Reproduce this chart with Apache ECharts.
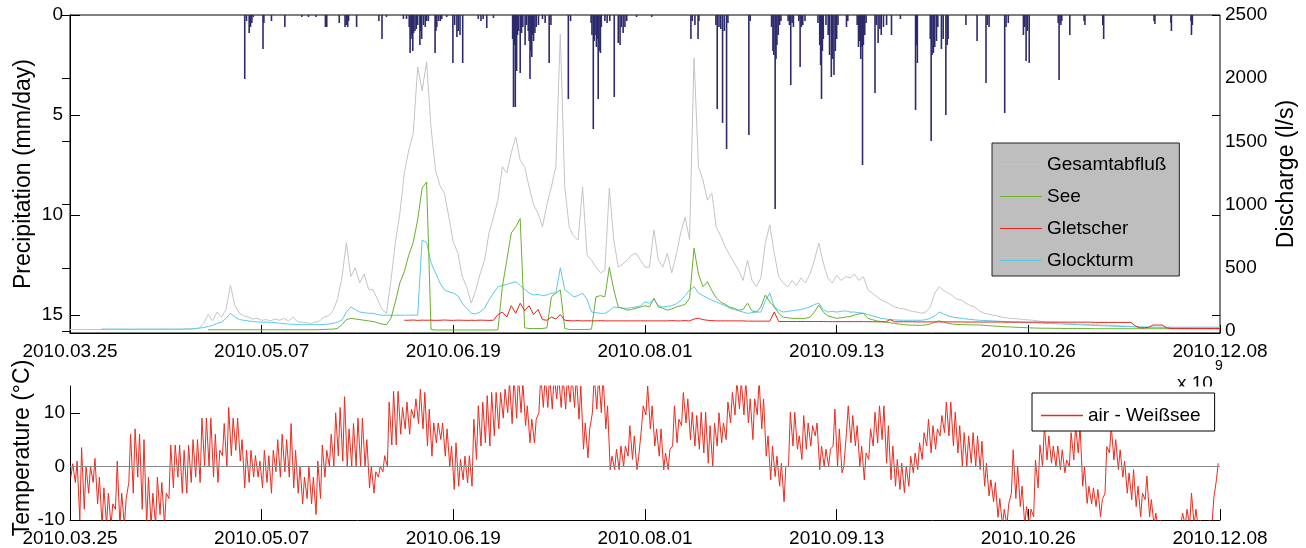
<!DOCTYPE html>
<html><head><meta charset="utf-8">
<script src="https://cdn.jsdelivr.net/npm/echarts@6/dist/echarts.min.js"></script>
<style>html,body{margin:0;padding:0;background:#fff}#c{width:1306px;height:548px}</style>
</head><body><div id="c"></div><script>
// ---------- data ----------
const tickLabels = ['2010.03.25','2010.05.07','2010.06.19','2010.08.01','2010.09.13','2010.10.26','2010.12.08'];
const tickStepDays = 43;
const lastDay = 258;

// precipitation [day offset from 2010-03-25, mm/day]
const precip = [
[39.2,3.2],[39.6,0.3],[40.2,0.9],[40.5,0.6],[40.8,0.4],[41.1,0.1],[43.3,1.7],[43.5,0.4],[45.2,0.3],[48.2,0.6],[52,0.1],[53.5,0.1],[55.2,0.1],[57.3,0.6],[57.6,0.6],
[60.4,0.4],[61.7,0.6],[62.0,0.5],[62.3,0.6],[62.5,0.3],[64.3,0.6],[69.3,0.3],[70.0,1.2],[71.0,0.1],[74.8,0.2],[75.5,0.2],
[76.1,0.6],[76.3,1.9],[76.5,1.2],[76.7,1.0],[76.9,1.8],[77.1,0.9],[77.4,0.8],[77.7,0.7],[78.0,0.5],[78.5,1.5],[78.7,0.8],[78.9,1.2],[79.3,0.5],[79.7,0.6],[80.0,0.3],[80.4,0.3],
[81.9,1.9],[82.1,0.8],[82.3,0.6],[82.7,0.3],[83.1,0.3],[83.4,0.2],[84.5,0.1],[85.9,2.4],[86.3,0.5],[86.8,1.1],[87.1,0.8],[87.5,1.0],[88.1,2.4],
[91.6,0.2],[92.2,0.3],[92.7,0.2],[93.5,0.65],[95.0,0.15],
[99.3,1.2],[99.5,4.6],[99.7,1.5],[99.9,4.6],[100.2,2.8],[100.4,1.0],[100.6,0.8],[101.0,2.9],[101.3,0.9],[101.6,0.6],[102.1,1.5],[102.4,0.5],[102.8,0.8],
[103.0,1.3],[103.2,3.2],[103.4,1.8],[103.6,2.1],[103.8,1.0],[104.0,1.3],[104.3,0.9],[104.6,0.6],[105.1,0.5],[106.0,0.2],[106.6,0.4],[107.5,2.4],[107.9,0.5],
[111.8,4.2],[112.3,0.3],
[116.9,0.4],[117.1,1.0],[117.4,5.7],[117.6,1.3],[117.8,1.0],[118.1,1.6],[118.3,1.2],[118.5,4.2],[118.7,1.8],[119.0,1.9],[119.2,0.6],[120.0,0.3],[120.5,0.4],[121.1,0.3],
[122.1,4.1],[123.0,1.4],[123.4,1.5],[123.7,0.6],[124.1,0.9],[124.5,0.6],[124.9,0.3],[127.1,0.1],[130.5,0.1],
[139.3,1.2],[139.6,0.3],[140.2,0.5],[140.9,1.2],[141.1,0.3],[144.9,0.5],[145.2,4.7],[145.6,0.6],[146.0,0.7],[146.4,5.4],[146.8,0.8],[147.3,6.7],[147.6,0.4],[152.3,6.0],[152.6,0.3],
[157.4,0.6],[157.7,1.8],[157.9,2.0],[158.2,9.7],[158.4,2.2],[158.6,1.5],[158.9,1.0],[159.2,0.5],[159.5,0.3],
[161.1,0.3],[161.4,0.5],[161.7,3.5],[162.0,0.4],[162.3,0.6],[163.5,0.3],[163.8,2.6],[164.1,0.6],[164.4,0.5],[164.9,0.3],
[167.8,0.4],[168.2,1.5],[168.4,2.5],[168.6,4.2],[168.8,1.8],[169.0,1.2],[169.6,0.5],[170.1,1.0],[170.4,2.0],[170.8,3.1],[171.1,2.2],[171.4,3.0],[171.7,1.8],[172.0,1.2],[172.3,0.5],[174.2,0.6],[174.5,0.3],
[176.6,0.5],[176.9,1.6],[177.1,1.3],[177.4,2.2],[177.6,1.6],[177.8,7.5],[178.0,1.5],[178.3,1.0],[178.6,0.4],
[180.6,3.9],[180.9,0.5],[181.3,1.4],[181.7,0.7],[182.0,1.0],[182.5,0.6],[183.2,0.5],[184.3,1.0],[186.3,0.2],
[189.7,4.75],[189.9,1.5],[190.1,2.4],[193.0,1.2],[193.2,6.3],[193.4,2.0],[193.7,1.9],[194.0,1.6],[194.4,1.3],[194.7,0.6],[195.5,1.7],[195.9,1.2],[196.5,5.0],[196.8,1.5],[197.0,1.2],
[201.0,0.5],[203.5,1.3],[205.5,3.4],[205.8,0.5],[206.2,0.6],[209.7,4.9],[210.0,0.6],[210.5,0.4],[213.9,1.0],[214.2,0.6],[214.5,2.3],[214.8,0.8],[215.2,2.4],
[221.7,0.4],[221.9,3.25],[222.3,0.5],[222.5,0.3],[224.3,1.0],[227.5,0.3],[227.7,0.5],[231.7,0.5],[231.9,1.2],[243.2,0.3],[243.4,0.45],[247.0,0.4],[247.1,0.8],[251.5,0.3],[251.6,1.0],[251.8,0.5]
];

// discharge (l/s), one value per day from 2010-03-25 (day 0..258)
const gesamt = [
12,12,11,12,13,12,12,11,12,12, 13,12,12,12,11,12,13,12,12,12, 13,14,13,12,14,13,15,16,18,25,
60,130,80,150,110,170,360,200,140,120, 110,95,100,85,90,80,95,85,100,80, 110,75,70,65,60,70,80,110,120,160,
250,420,700,430,500,380,450,330,325,250, 170,140,400,700,930,1250,1430,1560,2090,1900, 2130,1610,1270,1150,1090,900,700,620,430,350,
220,320,450,560,775,900,1035,1300,1250,1410, 1535,1350,1300,1140,1000,930,825,1000,1140,1300, 2350,1140,820,750,720,1140,600,560,505,460,
480,1130,720,505,530,560,600,615,560,505, 505,800,560,505,615,460,600,775,900,720, 2160,1300,1195,1035,1090,820,750,665,600,540,
480,400,560,400,350,420,700,840,615,430, 380,350,400,360,420,380,450,560,695,540, 420,380,440,400,430,420,450,400,430,325,
300,270,245,230,210,190,180,175,165,155, 150,140,150,190,300,350,320,300,280,250, 245,220,200,190,160,140,135,125,120,110,
105,100,98,95,90,88,85,80,75,70, 70,68,65,62,60,58,55,55,52,50, 50,48,47,46,45,42,40,38,36,34,
32,30,30,29,28,28,27,26,26,25, 25,25,24,24,24,23,23,23,22
];
const see = [
null,null,null,null,null,null,null,null,null,null, null,null,null,null,null,null,null,null,null,null, null,null,null,null,null,null,null,null,null,null,
null,10,10,10,10,10,10,10,10,10, 10,10,10,10,10,10,10,10,10,10, 10,10,10,10,10,10,11,12,14,15,
20,50,90,100,95,90,85,80,75,65, 55,50,100,230,380,470,600,700,880,1130, 1180,12,8,8,8,8,8,8,8,8,
8,8,8,8,8,8,10,350,560,775, 825,890,25,20,20,20,20,25,270,300, 325,20,12,12,12,12,12,15,270,280,
270,505,325,190,180,165,170,180,190,200, 190,260,190,180,165,175,190,200,210,260, 655,450,350,390,320,260,230,210,190,180,
165,170,220,160,150,190,285,230,190,140, 110,105,100,100,100,100,110,150,205,150, 120,110,100,105,110,115,125,135,140,100,
90,80,75,70,65,60,55,50,47,46, 45,45,48,55,70,80,70,60,55,52, 50,50,48,48,47,45,42,40,38,35,
33,32,30,28,27,25,24,23,22,22, 22,21,21,20,20,20,20,19,19,19, 18,18,18,18,18,18,18,18,18,18,
18,18,18,18,18,18,18,18,18,18, 17,17,17,17,17,17,17,17,17
];
const gletscher = [
null,null,null,null,null,null,null,null,null,null, null,null,null,null,null,null,null,null,null,null, null,null,null,null,null,null,null,null,null,null,
null,null,null,null,null,null,null,null,null,null, null,null,null,null,null,null,null,null,null,null, null,null,null,null,null,null,null,null,null,null,
null,null,null,null,null,null,null,null,null,null, null,null,null,null,null,85,85,87,84,86, 85,86,84,85,87,85,84,86,85,84,
85,84,86,85,84,85,130,150,110,200, 140,220,160,200,130,170,90,85,110,95, 130,85,82,80,82,80,81,80,80,82,
80,80,80,80,80,80,80,80,80,80, 80,80,80,80,80,82,80,80,82,80, 95,100,90,85,82,80,80,80,80,80,
80,80,78,78,78,78,78,78,150,75, 75,75,75,75,75,75,75,75,75,75, 74,74,74,74,74,74,74,74,74,74,
73,73,73,73,90,73,73,73,73,73, 72,72,72,72,72,72,72,72,72,72, 72,71,71,71,71,71,71,71,71,71,
70,70,70,70,70,70,70,70,70,70, 70,70,70,70,70,70,70,70,70,70, 68,68,68,68,68,68,68,68,68,40,
25,25,30,47,47,47,25,20,20,20, 20,20,20,20,20,20,20,20,20
];
const glockturm = [
null,null,null,null,null,null,null,15,15,15, 15,15,15,15,15,15,15,15,15,15, 15,15,15,15,15,15,16,16,18,22,
28,35,45,60,70,100,140,110,90,85, 80,75,72,70,70,68,66,62,58,55, 53,52,50,50,50,50,50,52,55,60,
70,85,150,190,170,150,145,140,140,130, 125,125,125,125,125,125,125,125,125,720, 700,540,460,380,325,310,300,280,220,180,
140,135,150,180,245,300,350,360,370,380, 390,360,330,300,285,290,280,285,300,300, 500,325,300,270,280,300,250,150,145,140,
140,160,190,185,180,180,185,190,200,230, 220,250,200,190,195,200,215,240,280,325, 350,300,280,260,245,230,215,200,180,170,
160,150,140,145,150,150,240,300,190,165, 150,155,160,165,170,180,190,210,220,170, 150,155,150,155,160,150,150,145,140,130,
120,110,100,95,90,88,86,85,85,85, 85,85,90,100,120,150,135,120,110,105, 100,95,92,88,85,83,82,80,78,76,
75,73,72,70,68,66,65,63,62,60, 60,58,56,55,53,52,50,48,47,45, 44,42,41,40,38,37,36,35,34,33,
32,31,30,30,30,30,30,30,30,30, 30,30,30,30,30,30,30,30,30
];

// air temperature Weißsee (°C): daily minimum and maximum, day 0..257
const tMax = [
0.5,1,3.5,0,0,1.5,-2,-4,-5,-7, 1,-5,-6,6,7,6,5,-2,-5,-2, -3,-5,4,4,4,3,4,5,5,9, 9,9,6,3,8,11,9,9,5,3,
3,2,1,3,2,3,5,6,5,8, 3,0,-2,0,-2,1,4,3,6,10, 11,13,7,8,9,9,5,0,-1,0,
2,12,14,14,11,12,10.7,12.6,14.4,13.8, 10.7,8.1,8.1,8.1,7,3.8,4.4,1.3,1.9,2, 8.8,11.3,12,13.2,13.8,13.8,13.8,14.4,15.7,17,
17,15.7,11.3,8.8,8.8,17,17,17,17,17, 17,17,17,17,15,8.1,7,17,17,17, 11.3,1.9,3.2,3.8,3.8,7.6,5.7,1.9,11.3,15,
11.3,7,7,2.5,3.2,11.3,8.8,13.8,12.6,10.1, 9.5,10.1,10.1,7.6,8.1,10,8.1,12,13.8,16, 16,16,12.6,12.6,16,12.6,5.7,3.8,1.9,0.6,
0,10.1,10.1,5.7,9.5,8.1,7.6,8.1,3.8,3.2, 3.2,10.7,7,0,11.3,9.5,7.6,3.8,2.5,7, 10.1,11.3,11.3,7.6,3.8,1.3,0.6,0,1.9,2.5,
4.4,6.3,8.8,7.6,7,9.5,12,12,10.1,7.6, 6.3,5.7,6.3,5.7,4.7,0.6,-2.5,-3,-6,-8, -7,3.1,0,-3.7,-7.5,-8,1.2,4,7.6,5.7,
3.8,3.8,3.1,1.2,6.3,7.6,7.6,0,-3.7,-4, -4.3,-6.2,3.7,7.6,5,3.1,1,-1.2,-0.6,-3.7, -5,-1.8,-6.2,-8.7,-10,-11,-10.5,-11,-11,-8.7,
-8,-5,-8,-10,-11,-10,-6,0.6
];
const tMin = [
-2,-3,-10,-8,-5,-3,-7,-11,-11,-11, -8,-11,-11,-3,-5,-2,-8,-11,-11,-11, -9,-11,-6,-4,-2,-5,-5,-3,-2,-3, 0,0,-2,-3,2,0,2,3,1,-4,
-3,-2,-2,-4,-3,-5,-1,-2,-1,-2, -4,-5,-7,-6,-7,-9,-6,-2,0,0, 2,1,0,0,0,0,0,-4,-5,-2,
-1,0,4,4,6,7,6,9,8,7, 3.8,1.9,4.4,5,1.9,0,-4.3,-3.7,-2.5,-3.1, -3.7,1.3,3.8,4.4,3.8,5.7,7,9,10,8,
9,10,7.6,4.4,4.4,10,11,11,10.7,12.6, 11,10.7,12,11,8.8,3.2,1.6,10,10.7,10, 7,-0.6,-0.6,-0.6,0,1.9,1.3,-0.6,7,9.6,
7,3.8,1.9,-0.6,-0.6,3.8,4.4,7.6,8.1,5, 3.8,3.2,2.5,0.6,0,3.8,4.4,5,8.1,9.6, 10.7,9.6,8.1,5,9.6,7,1.9,-2.5,-1.9,-3.7,
-6.6,0,3.8,3.2,1.3,3.2,3.8,5.7,-0.6,0, 0,3.8,0,-1.2,6.3,4.4,3.8,0,-2.5,1.3, 3.8,4.4,5,0.6,-2.5,-3.7,-4.3,-4.9,-3.7,-1.2,
-0.6,1.3,3.8,2.5,3.2,5.7,6.3,5.7,3.8,2.5, 0,0,0.6,0,-0.6,-3.7,-5.5,-6.6,-9.5,-11, -11,-5,-6,-7.5,-11,-11,-9.4,-4,0,1.2,
0.6,0,-0.6,-1.2,0,1.2,2.5,-3.7,-6.9,-7, -7.5,-9.4,-5,2.5,1.2,-0.6,-2,-5,-6.2,-7.5, -9.4,-6.2,-9.4,-11,-12,-12,-12,-12,-12,-11,
-11,-11,-11,-12,-12,-12,-11,-2.5
];

// ---------- chart ----------
const FONT = "'Liberation Sans', Arial, Helvetica, sans-serif";
const RED = '#ee2a1e';
const daily = arr => arr.map((v, i) => v == null ? null : [i, v]).filter(Boolean);
const tempData = [];
tMin.forEach((v, i) => { tempData.push([i + 0.2, v]); tempData.push([i + 0.6, tMax[i]]); });
const xTicks = tickLabels.map((_, i) => i * tickStepDays);
const xFmt = v => { const k = Math.round(v / tickStepDays); return Math.abs(v - k * tickStepDays) < 1e-6 ? tickLabels[k] : ''; };

const chart = echarts.init(document.getElementById('c'), null, {renderer: 'canvas'});
const lbl = {color: '#000', fontSize: 19, fontFamily: FONT};
const baseX = (grid, show, tickLen) => ({
  type: 'value', gridIndex: grid, min: 0, max: lastDay, interval: tickStepDays,
  show: show,
  axisLine: {show: show, onZero: false, lineStyle: {color: '#000', width: 1}},
  axisTick: {show: show, inside: true, length: tickLen, lineStyle: {color: '#000'}, customValues: xTicks},
  axisLabel: Object.assign({show: show, margin: 9, formatter: xFmt, customValues: xTicks}, lbl),
  splitLine: {show: false}
});

chart.setOption({
  animation: false,
  backgroundColor: '#fff',
  textStyle: {fontFamily: FONT},
  grid: [
    {left: 70, top: 15, width: 1150, height: 318, show: true, borderColor: '#000', borderWidth: 1, backgroundColor: 'transparent'},
    {left: 70, top: 15, width: 1150, height: 316},
    {left: 70, top: 386, width: 1150, height: 134}
  ],
  xAxis: [baseX(0, true, 8), baseX(1, false, 0), baseX(2, true, 11)],
  yAxis: [
    {type: 'value', gridIndex: 0, position: 'left', inverse: true, min: 0, max: 15.9, interval: 5,
     axisLine: {show: true, lineStyle: {color: '#000'}},
     axisTick: {show: true, inside: true, length: 10, lineStyle: {color: '#000'}, customValues: [0, 5, 10, 15]},
     axisLabel: Object.assign({margin: 7, customValues: [0, 5, 10, 15], formatter: v => (v % 5 === 0 ? String(v) : '')}, lbl),
     splitLine: {show: false}},
    {type: 'value', gridIndex: 0, position: 'right', inverse: true, min: 0, max: 15.9, interval: 5,
     axisLine: {show: false},
     axisTick: {show: true, inside: true, length: 8, lineStyle: {color: '#000'}, customValues: [0, 5, 10, 15]},
     axisLabel: {show: false}, splitLine: {show: false}},
    {type: 'value', gridIndex: 1, position: 'right', min: 0, max: 2500, interval: 500,
     axisLine: {show: true, lineStyle: {color: '#000'}},
     axisTick: {show: true, inside: true, length: 8, lineStyle: {color: '#000'}},
     axisLabel: Object.assign({margin: 5, formatter: v => String(v)}, lbl),
     splitLine: {show: false}},
    {type: 'value', gridIndex: 2, position: 'left', min: -10, max: 15, interval: 10,
     axisLine: {show: true, onZero: false, lineStyle: {color: '#000'}},
     axisTick: {show: true, inside: true, length: 10, lineStyle: {color: '#000'}, customValues: [-10, 0, 10]},
     axisLabel: Object.assign({margin: 5, customValues: [-10, 0, 10], formatter: v => (v % 10 === 0 ? String(v) : '')}, lbl),
     splitLine: {show: false}}
  ],
  legend: [
    {data: ['Gesamtabfluß', 'See', 'Gletscher', 'Glockturm'], orient: 'vertical', left: 992, top: 143,
     padding: [12, 13, 6, 8], itemWidth: 42, itemHeight: 14, itemGap: 13,
     icon: 'path://M0 0H42V1.2H0Z', backgroundColor: '#bebebe', borderColor: '#222', borderWidth: 1,
     textStyle: {color: '#000', fontSize: 19, fontFamily: FONT}, selectedMode: false, z: 10},
    {data: [{name: 'air - Weißsee', itemStyle: {color: RED, borderWidth: 0}}], orient: 'vertical', left: 1032, top: 393,
     padding: [13, 14, 6, 9], itemWidth: 42, itemHeight: 14,
     icon: 'path://M0 0H42V1.4H0Z', backgroundColor: '#fff', borderColor: '#000', borderWidth: 1,
     itemStyle: {color: RED, borderColor: RED, borderWidth: 0},
     lineStyle: {color: RED},
     textStyle: {color: '#000', fontSize: 19, fontFamily: FONT}, selectedMode: false, z: 10}
  ],
  graphic: [
    {type: 'text', left: 1177, top: 374, z: 1, style: {text: 'x 10', fontSize: 19, fontFamily: FONT, fill: '#000'}},
    {type: 'text', left: 1215, top: 359, z: 1, style: {text: '9', fontSize: 14, fontFamily: FONT, fill: '#000'}},
    {type: 'rect', shape: {x: 1170, y: 386.5, width: 50, height: 8}, z: 2, style: {fill: '#fff'}},
    {type: 'text', x: 24, y: 174, rotation: Math.PI / 2, z: 1,
     style: {text: 'Precipitation (mm/day)', fontSize: 23, fontFamily: FONT, fill: '#000', align: 'center', verticalAlign: 'middle'}},
    {type: 'text', x: 1287, y: 174, rotation: Math.PI / 2, z: 1,
     style: {text: 'Discharge (l/s)', fontSize: 23, fontFamily: FONT, fill: '#000', align: 'center', verticalAlign: 'middle'}},
    {type: 'text', x: 23, y: 448, rotation: Math.PI / 2, z: 1,
     style: {text: 'Temperature (°C)', fontSize: 23, fontFamily: FONT, fill: '#000', align: 'center', verticalAlign: 'middle'}}
  ],
  series: [
    {name: 'Gesamtabfluß', type: 'line', xAxisIndex: 1, yAxisIndex: 2, data: daily(gesamt), symbol: 'none',
     color: '#c4c4c4', lineStyle: {width: 1, color: '#c4c4c4'}, z: 2},
    {name: 'Glockturm', type: 'line', xAxisIndex: 1, yAxisIndex: 2, data: daily(glockturm), symbol: 'none',
     color: '#5cc8e6', lineStyle: {width: 1, color: '#5cc8e6'}, z: 3},
    {name: 'See', type: 'line', xAxisIndex: 1, yAxisIndex: 2, data: daily(see), symbol: 'none',
     color: '#68b12c', lineStyle: {width: 1, color: '#68b12c'}, z: 4},
    {name: 'Gletscher', type: 'line', xAxisIndex: 1, yAxisIndex: 2, data: daily(gletscher), symbol: 'none',
     color: '#e8231c', lineStyle: {width: 1, color: '#e8231c'}, z: 5},
    {name: 'Niederschlag', type: 'bar', xAxisIndex: 0, yAxisIndex: 0, data: precip, barWidth: 1.6,
     itemStyle: {color: '#2d2a6c'}, z: 6},
    {name: 'air - Weißsee', type: 'line', xAxisIndex: 2, yAxisIndex: 3, data: tempData, symbol: 'none',
     color: RED, itemStyle: {color: RED}, lineStyle: {width: 1, color: RED}, clip: true, z: 2},
    {name: 'zero', type: 'line', xAxisIndex: 2, yAxisIndex: 3, data: [], symbol: 'none', z: 3,
     markLine: {silent: true, symbol: 'none', label: {show: false}, animation: false,
       lineStyle: {color: '#888', type: 'solid', width: 1}, data: [{yAxis: 0}]}}
  ]
});
</script></body></html>
